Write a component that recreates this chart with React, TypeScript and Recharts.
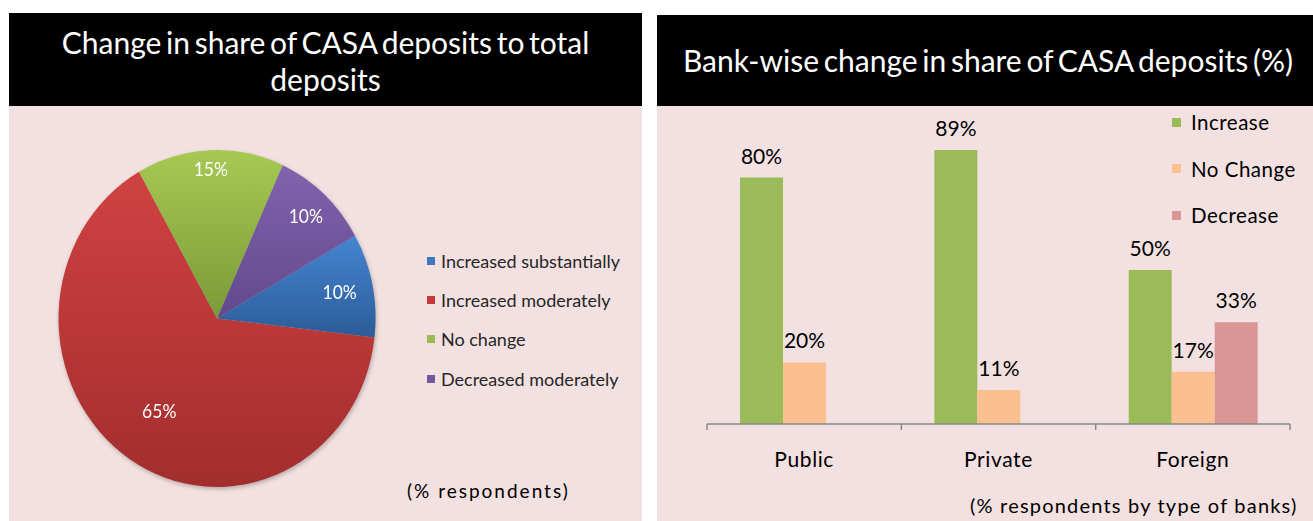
import React from "react";
import { PieChart, Pie, Cell, BarChart, Bar, XAxis, YAxis, LabelList } from "recharts";

const pieCategories = ["Increased substantially", "Increased moderately", "No change", "Decreased moderately"];
const pieValues = [10, 65, 15, 10];

const barCategories = ["Public", "Private", "Foreign"];
const increaseValues = [80, 89, 50];
const noChangeValues = [20, 11, 17];
const decreaseValues: (number | null)[] = [null, null, 33];
const barSeriesNames = ["Increase", "No Change", "Decrease"];

const FONT = "Lato, 'Open Sans', sans-serif";
const BG = "#F3E1E1";

const pieTop = ["#4585D2", "#D04242", "#A6C953", "#8262AE"];
const pieBottom = ["#2C5C98", "#A32D2D", "#7A9A38", "#614A8C"];
const pieLegendColors = ["#3F76C0", "#C53B3B", "#9BBB59", "#7458A0"];
const labelRadiusRatio = [0.79, 0.66, 0.89, 0.83];
const barColors = ["#9BBB59", "#FAC090", "#D99694"];

const pieData = pieCategories.map((name, i) => ({ name, value: pieValues[i] }));
const barData = barCategories.map((name, i) => ({
  name,
  increase: increaseValues[i],
  nochange: noChangeValues[i],
  decrease: decreaseValues[i],
}));

const RADIAN = Math.PI / 180;

const renderPieLabel = (props: any) => {
  const { cx, cy, midAngle, outerRadius, index, value } = props;
  const r = outerRadius * labelRadiusRatio[index];
  const x = cx + r * Math.cos(-midAngle * RADIAN);
  const y = cy + r * Math.sin(-midAngle * RADIAN);
  return (
    <text x={x} y={y} fill="#FFFFFF" textAnchor="middle" dominantBaseline="central" fontSize={18} fontFamily={FONT}>
      {value + "%"}
    </text>
  );
};

const PLOT_W = 583;
const BAND = PLOT_W / barCategories.length;

const CategoryTick = (props: any) => {
  const { x, y, payload, index } = props;
  const half = BAND / 2;
  const axisY = y - 6;
  return (
    <g>
      <line x1={x - half} x2={x - half} y1={axisY} y2={axisY + 6} stroke="#898989" strokeWidth={1.5} />
      {index === barCategories.length - 1 && (
        <line x1={x + half} x2={x + half} y1={axisY} y2={axisY + 6} stroke="#898989" strokeWidth={1.5} />
      )}
      <text x={x} y={axisY + 34} textAnchor="middle" dominantBaseline="central" fontSize={21} letterSpacing={0.6} fontFamily={FONT} fill="#000">
        {payload.value}
      </text>
    </g>
  );
};

export default function App() {
  return (
    <div style={{ position: "absolute", left: 0, top: 0, width: 1313, height: 521, background: "#FFFFFF", fontFamily: FONT, overflow: "hidden" }}>
      {/* Left panel */}
      <div style={{ position: "absolute", left: 9, top: 13, width: 633, height: 93, background: "#000", color: "#FFF", textAlign: "center", fontSize: 30, lineHeight: "37px", paddingTop: 11, boxSizing: "border-box", wordSpacing: -3 }}>
        Change in share of CASA deposits to total
        <br />
        deposits
      </div>
      <div style={{ position: "absolute", left: 9, top: 106, width: 633, height: 415, background: BG }} />
      <div style={{ position: "absolute", left: 47, top: 146, width: 340, height: 345, transform: "scale(0.9724, 1.0337)", transformOrigin: "170px 172.5px", filter: "drop-shadow(1px 2px 2px rgba(0,0,0,0.25))" }}>
        <PieChart width={340} height={345} margin={{ top: 0, right: 0, bottom: 0, left: 0 }}>
          <defs>
            {pieTop.map((c, i) => (
              <linearGradient key={i} id={"pg" + i} x1="0" y1="0" x2="0" y2="1">
                <stop offset="0%" stopColor={c} />
                <stop offset="100%" stopColor={pieBottom[i]} />
              </linearGradient>
            ))}
          </defs>
          <Pie
            data={pieData}
            dataKey="value"
            nameKey="name"
            cx={170}
            cy={172.5}
            outerRadius={163}
            startAngle={29.5}
            endAngle={29.5 - 360}
            stroke="none"
            isAnimationActive={false}
            label={renderPieLabel}
            labelLine={false}
          >
            {pieData.map((d, i) => (
              <Cell key={d.name} fill={"url(#pg" + i + ")"} />
            ))}
          </Pie>
        </PieChart>
      </div>
      <div style={{ position: "absolute", left: 427, top: 241, color: "#262626", fontSize: 18 }}>
        {pieCategories.map((name, i) => (
          <div key={name} style={{ height: 39, display: "flex", alignItems: "center", transform: "translateY(" + (i === 3 ? 1 : 0) + "px)" }}>
            <span style={{ display: "inline-block", width: 8, height: 8, background: pieLegendColors[i], marginRight: 6 }} />
            <span style={{ lineHeight: "24px" }}>{name}</span>
          </div>
        ))}
      </div>
      <div style={{ position: "absolute", left: 407, top: 479, fontSize: 19, color: "#000", letterSpacing: 2 }}>(% respondents)</div>

      {/* Right panel */}
      <div style={{ position: "absolute", left: 657, top: 15, width: 656, height: 91, background: "#000", color: "#FFF", textAlign: "center", fontSize: 30, lineHeight: "91px", wordSpacing: -3, paddingLeft: 6, boxSizing: "border-box" }}>
        Bank-wise change in share of CASA deposits (%)
      </div>
      <div style={{ position: "absolute", left: 657, top: 106, width: 656, height: 415, background: BG }} />
      <div style={{ position: "absolute", left: 657, top: 106 }}>
        <BarChart width={656} height={415} data={barData} margin={{ top: 10, right: 23, bottom: 0, left: 50 }} barCategoryGap="17%" barGap={0}>
          <XAxis
            dataKey="name"
            height={97}
            axisLine={{ stroke: "#898989", strokeWidth: 1.5 }}
            tickLine={false}
            tick={<CategoryTick />}
            tickSize={6}
            tickMargin={0}
            interval={0}
          />
          <YAxis hide domain={[0, 100]} />
          <Bar dataKey="increase" name={barSeriesNames[0]} fill={barColors[0]} isAnimationActive={false}>
            <LabelList dataKey="increase" position="top" offset={14} fill="#000" fontSize={21} fontFamily={FONT} formatter={(v: any) => (v == null ? "" : v + "%")} />
          </Bar>
          <Bar dataKey="nochange" name={barSeriesNames[1]} fill={barColors[1]} isAnimationActive={false}>
            <LabelList dataKey="nochange" position="top" offset={14} fill="#000" fontSize={21} fontFamily={FONT} formatter={(v: any) => (v == null ? "" : v + "%")} />
          </Bar>
          <Bar dataKey="decrease" name={barSeriesNames[2]} fill={barColors[2]} isAnimationActive={false}>
            <LabelList dataKey="decrease" position="top" offset={14} fill="#000" fontSize={21} fontFamily={FONT} formatter={(v: any) => (v == null ? "" : v + "%")} />
          </Bar>
        </BarChart>
      </div>
      <div style={{ position: "absolute", left: 1172, top: 99, fontSize: 20.5, color: "#000" }}>
        {barSeriesNames.map((name, i) => (
          <div key={name} style={{ height: 46.5, display: "flex", alignItems: "center" }}>
            <span style={{ display: "inline-block", width: 9, height: 9, background: barColors[i], marginRight: 10 }} />
            <span style={{ letterSpacing: 0.5 }}>{name}</span>
          </div>
        ))}
      </div>
      <div style={{ position: "absolute", left: 970, top: 493, fontSize: 20, color: "#000", letterSpacing: 1.2 }}>(% respondents by type of banks)</div>
    </div>
  );
}
